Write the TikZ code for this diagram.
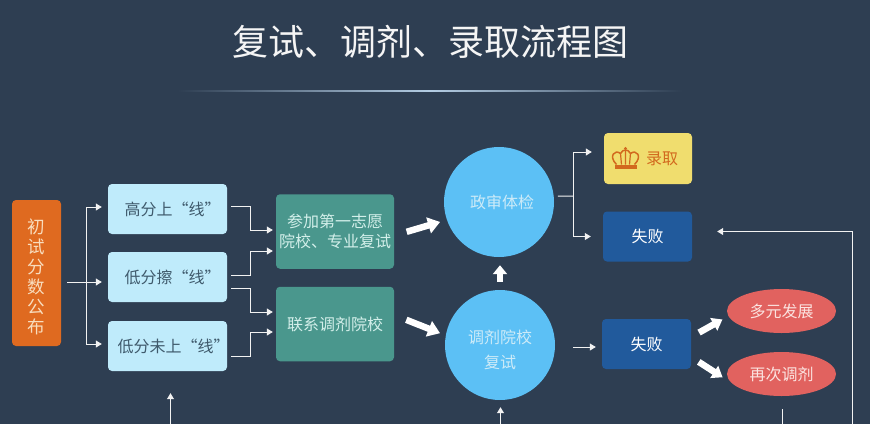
\documentclass[tikz,border=0pt]{standalone}
\usepackage{fontspec}
\setmainfont{Noto Sans CJK SC}
\usepackage{xcolor}
\usepackage{tikz}
\usetikzlibrary{arrows.meta,positioning,shapes.geometric}
\definecolor{bgblue}{HTML}{2E3E52}
\definecolor{ruleblue}{HTML}{B4CDE4}
\definecolor{initorange}{HTML}{DF6A20}
\definecolor{initink}{HTML}{F8DDBE}
\definecolor{lightcyan}{HTML}{BFEBFB}
\definecolor{cyanink}{HTML}{3F5A6C}
\definecolor{tealbox}{HTML}{4A978D}
\definecolor{tealink}{HTML}{D3EFEA}
\definecolor{skyfill}{HTML}{5CC0F5}
\definecolor{skyink}{HTML}{CDEBF8}
\definecolor{goldfill}{HTML}{F0DD6E}
\definecolor{goldink}{HTML}{D2691E}
\definecolor{navyfill}{HTML}{215A9C}
\definecolor{redfill}{HTML}{E1625F}
\definecolor{redink}{HTML}{FBE3E0}
\tikzset{
  box/.style={rectangle,rounded corners=4pt,inner sep=0pt,align=center,
    font=\fontsize{16}{20}\selectfont},
  lineboxstyle/.style={box,fill=lightcyan,text=cyanink,minimum width=119pt,minimum height=50pt},
  tealstyle/.style={box,fill=tealbox,text=tealink,minimum width=118pt,minimum height=74.5pt},
  navystyle/.style={box,fill=navyfill,text=white,minimum width=89pt,minimum height=50pt},
  roundstyle/.style={circle,fill=skyfill,text=skyink,minimum size=110pt,inner sep=0pt,align=center,
    font=\fontsize{16}{25}\selectfont},
  ovalstyle/.style={ellipse,fill=redfill,text=redink,minimum width=109pt,minimum height=44pt,
    inner sep=0pt,font=\fontsize{16}{20}\selectfont},
  thinline/.style={draw=white!90!gray,line width=1pt},
  thinarrow/.style={thinline,-{Triangle[length=6pt,width=7pt]}},
  fatarrow/.style={draw=white,line width=6.5pt,-{Triangle[length=12pt,width=16pt]}},
}
\begin{document}
\begin{tikzpicture}[x=1pt,y=-1pt]
  \useasboundingbox (0,0) rectangle (870,424);
  \fill[bgblue] (0,0) rectangle (870,424);
  % title
  \node[text=white!92!gray,font=\fontsize{36}{40}\selectfont,inner sep=0pt] (title) at (430,42) {复试、调剂、录取流程图};
  \shade[left color=bgblue,right color=ruleblue] (178,90.2) rectangle (430,91.8);
  \shade[left color=ruleblue,right color=bgblue] (430,90.2) rectangle (682,91.8);
  % left column
  \node[box,fill=initorange,text=initink,minimum width=49pt,minimum height=146pt,
    font=\fontsize{17.5}{20}\selectfont] (init) at (36.5,273) {\rule{0pt}{22pt}初\\试\\分\\数\\公\\布};
  \node[lineboxstyle] (high) at (167.5,209) {\hspace{10pt}高分上“线”};
  \node[lineboxstyle] (low) at (167.5,277) {\hspace{10pt}低分擦“线”};
  \node[lineboxstyle] (under) at (167.5,346) {\hspace{8pt}低分未上“线”\hspace{-4pt}};
  \node[tealstyle] (first) at (335,231.5) {参加第一志愿\\院校、专业复试};
  \node[tealstyle] (adjust) at (335,324) {联系调剂院校};
  % circles
  \node[roundstyle] (review) at (499,202) {\hspace{6pt}政审体检};
  \node[roundstyle] (retest) at (500,345) {\rule{0pt}{24pt}调剂院校\\复试};
  % results
  \node[box,fill=goldfill,text=goldink,minimum width=88pt,minimum height=51pt] (admit) at (648,158.5) {\hspace{28pt}录取};
  \node[navystyle] (failA) at (647.5,236.5) {失败};
  \node[navystyle] (failB) at (646.5,344) {失败};
  \node[ovalstyle] (diverse) at (781.5,311) {多元发展};
  \node[ovalstyle] (again) at (781.5,374) {再次调剂};
  % crown
  \fill[goldink] (614.5,164.5) rectangle (636.5,169);
  \draw[goldink,line width=1.5pt,fill=none]
  (616.5,164.5) .. controls (608,156) and (615,149) .. (620.5,153.5)
  .. controls (621.5,151) and (624,150) .. (625.5,150)
  .. controls (627,150) and (629.5,151) .. (630.5,153.5)
  .. controls (636,149) and (643,156) .. (634.5,164.5);
  \draw[goldink,line width=1.2pt] (620.5,153.5) -- (621.5,164.5) (630.5,153.5) -- (629.5,164.5) (625.5,150) -- (625.5,164.5);
  \fill[goldink] (625.5,148.5) circle [radius=1.6pt];
  % free ends
  \coordinate (splitA) at (86,282);
  \coordinate (splitB) at (573,196);
  \coordinate (bottomA) at (170.5,424);
  \coordinate (bottomB) at (500.5,424);
  \coordinate (bottomC) at (782.5,424);
  \coordinate (bottomD) at (852.5,424);
  % from the scores to the three boxes
  \draw[thinarrow,shorten <=6pt,shorten >=6pt] ([yshift=-9pt]init.east) -- ([yshift=-5pt]low.west);
  \draw[thinarrow,shorten >=6pt] (splitA) |- ([yshift=2pt]high.west);
  \draw[thinarrow,shorten >=6pt] (splitA) |- ([yshift=2pt]under.west);
  % elbows to the teal boxes
  \foreach \from/\fromy/\to/\toy in {high/3/first/1.5, low/2/first/-19.5, low/-11/adjust/12, under/-10/adjust/-8}
  \draw[thinarrow,shorten <=4pt,shorten >=3pt] ([yshift=\fromy pt]\from.east) -- ++(23,0) |- ([yshift=\toy pt]\to.west);
  % fat arrows
  \draw[fatarrow,shorten <=13pt,shorten >=7pt] ([yshift=-4pt]first.east) -- (review.199);
  \draw[fatarrow,shorten <=13pt,shorten >=6pt] ([yshift=9pt]adjust.east) -- (retest.170);
  \draw[fatarrow,-{Triangle[length=9pt,width=14pt]},shorten <=8pt,shorten >=8pt] (retest.north) -- (retest.north |- review.south);
  \draw[fatarrow,-{Triangle[length=10pt,width=14pt]},shorten <=9pt,shorten >=5pt] ([yshift=7pt]failB.east) -- ([yshift=-6pt]diverse.west);
  \draw[fatarrow,-{Triangle[length=10pt,width=14pt]},shorten <=9pt,shorten >=5pt] ([yshift=-13pt]failB.east) -- ([yshift=-6pt]again.west);
  % results side
  \draw[thinline,shorten <=4pt] (review.6) -- (splitB);
  \draw[thinarrow,shorten >=12pt] (splitB) |- ([yshift=6.5pt]admit.west);
  \draw[thinarrow,shorten >=12pt] (splitB) |- (failA.west);
  \draw[thinarrow,shorten <=18pt,shorten >=6pt] ([yshift=-2pt]retest.east) -- ([yshift=-3pt]failB.west);
  % lines coming up from below
  \draw[thinarrow,shorten >=22pt] (bottomA) -- (bottomA |- under.south);
  \draw[thinarrow,shorten >=7pt] (bottomB) -- (bottomB |- retest.south);
  \draw[thinline,shorten >=13pt] (bottomC) -- (bottomC |- again.south);
  \draw[thinarrow,shorten >=25pt] (bottomD) |- ([yshift=5pt]failA.east);
\end{tikzpicture}
\end{document}
